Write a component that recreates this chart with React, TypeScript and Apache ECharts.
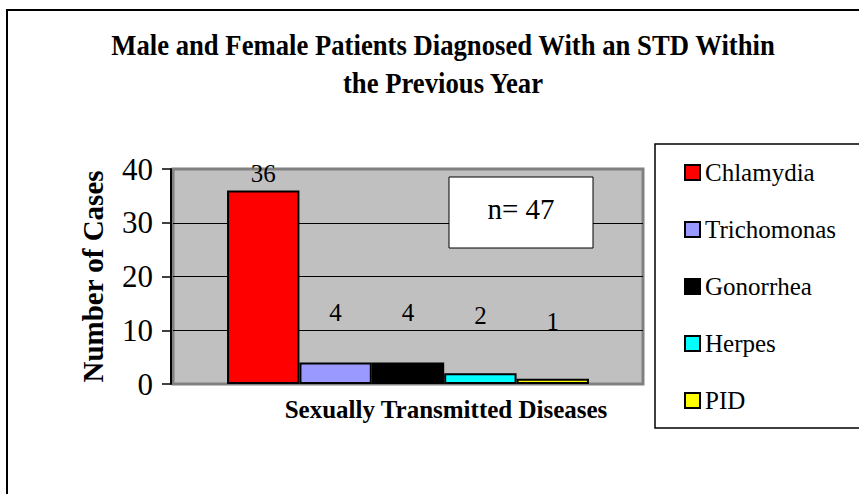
import React, { useEffect, useRef } from "react";
import * as echarts from "echarts";

const titleLines = [
  "Male and Female Patients Diagnosed With an STD Within",
  "the Previous Year",
];
const categories = [""];
const seriesNames = ["Chlamydia", "Trichomonas", "Gonorrhea", "Herpes", "PID"];
const seriesValues = [36, 4, 4, 2, 1];
const seriesColors = ["#FF0000", "#9999FF", "#000000", "#00FFFF", "#FFFF00"];
const labelDistances = [5, 38, 38, 45, 45];
const yTicks = { min: 0, max: 40, interval: 10 };
const yAxisName = "Number of Cases";
const xAxisName = "Sexually Transmitted Diseases";
const annotation = "n= 47";

const FONT = "Liberation Serif";

export default function App() {
  const ref = useRef<HTMLDivElement>(null);
  useEffect(() => {
    if (!ref.current) return;
    const chart = echarts.init(ref.current, undefined, { renderer: "svg" });
    const series = seriesNames.map((name, i) => ({
      name,
      type: "bar",
      data: [seriesValues[i]],
      barGap: "0%",
      barCategoryGap: "23%",
      itemStyle: { color: seriesColors[i], borderColor: "#000", borderWidth: 2 },
      label: {
        show: true,
        position: "top",
        distance: labelDistances[i],
        color: "#000",
        fontFamily: FONT,
        fontSize: 25,
      },
      z: 3,
    }));
    chart.setOption({
      animation: false,
      backgroundColor: "#fff",
      textStyle: { fontFamily: FONT },
      grid: {
        left: 173,
        top: 169,
        right: 216,
        bottom: 110,
        show: true,
        backgroundColor: "#C0C0C0",
        borderColor: "#808080",
        borderWidth: 3,
      },
      xAxis: {
        type: "category",
        data: categories,
        axisLine: { show: false },
        axisTick: { show: false },
        axisLabel: { show: false },
        name: xAxisName,
        nameLocation: "middle",
        nameGap: 13,
        nameTextStyle: {
          fontFamily: FONT,
          fontWeight: "bold",
          fontSize: 25,
          color: "#000",
          padding: [0, 0, 0, 76],
        },
      },
      yAxis: {
        type: "value",
        min: yTicks.min,
        max: yTicks.max,
        interval: yTicks.interval,
        offset: 2,
        axisLine: { show: true, lineStyle: { color: "#000", width: 2 } },
        axisTick: { show: true, inside: false, length: 9, lineStyle: { color: "#000", width: 1.5 } },
        axisLabel: { color: "#000", fontFamily: FONT, fontSize: 31, margin: 18 },
        splitLine: { show: true, showMinLine: false, showMaxLine: false, lineStyle: { color: "#000", width: 1 } },
        name: yAxisName,
        nameLocation: "middle",
        nameRotate: 90,
        nameGap: 64,
        nameTextStyle: { fontFamily: FONT, fontWeight: "bold", fontSize: 29, color: "#000" },
      },
      legend: {
        orient: "vertical",
        left: 684,
        top: 160,
        padding: 0,
        itemGap: 32,
        itemWidth: 15,
        itemHeight: 15,
        icon: "rect",
        data: seriesNames,
        textStyle: { fontFamily: FONT, fontSize: 25, color: "#000", lineHeight: 25 },
      },
      graphic: [
        {
          type: "rect",
          shape: { x: 7, y: 10, width: 900, height: 600 },
          style: { fill: "none", stroke: "#000", lineWidth: 2 },
          z: -10,
          silent: true,
        },
        {
          type: "rect",
          shape: { x: 655, y: 144, width: 260, height: 284 },
          style: { fill: "#fff", stroke: "#000", lineWidth: 1.5 },
          z: -5,
          silent: true,
        },
        {
          type: "rect",
          shape: { x: 449, y: 177, width: 144, height: 71 },
          style: { fill: "#fff", stroke: "#000", lineWidth: 1 },
          z: 10,
          silent: true,
        },
        {
          type: "text",
          x: 521,
          y: 209,
          z: 11,
          style: {
            text: annotation,
            fontFamily: FONT,
            fontSize: 29,
            fill: "#000",
            textAlign: "center",
            textVerticalAlign: "middle",
          },
        },
        ...titleLines.map((t, i) => ({
          type: "text",
          x: 443,
          y: i === 0 ? 45 : 83,
          scaleX: 0.92,
          z: 11,
          style: {
            text: t,
            fontFamily: FONT,
            fontWeight: "bold",
            fontSize: 29,
            fill: "#000",
            textAlign: "center",
            textVerticalAlign: "middle",
          },
        })),
      ],
      series,
    });
    return () => chart.dispose();
  }, []);
  return (
    <div
      ref={ref}
      style={{ position: "fixed", left: 0, top: 0, width: 859, height: 494, background: "#fff" }}
    />
  );
}
